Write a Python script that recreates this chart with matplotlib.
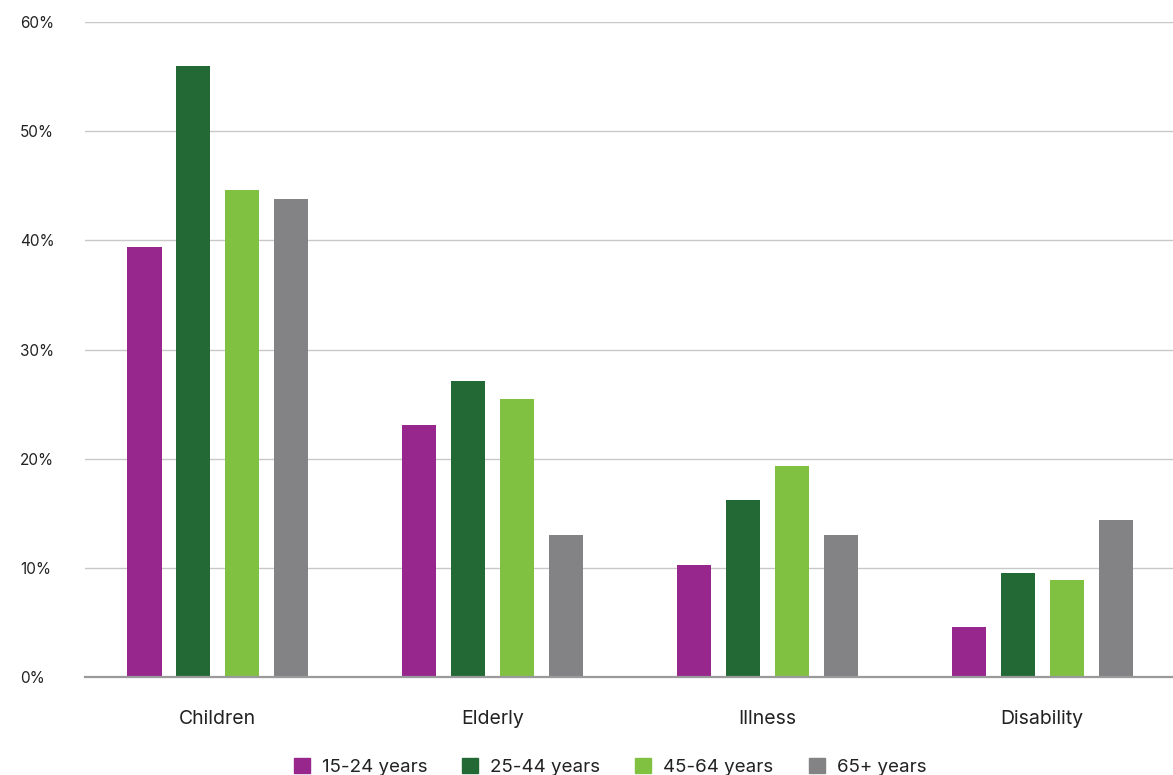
import numpy as np
import matplotlib.pyplot as plt
from matplotlib.patches import Patch

plt.rcParams['font.family'] = ['Inter', 'DejaVu Sans']

categories = ["Children", "Elderly", "Illness", "Disability"]
groups = ["15-24 years", "25-44 years", "45-64 years", "65+ years"]
colors = ["#97268D", "#236936", "#80C142", "#838386"]

age_15_24 = [39.4, 23.1, 10.3, 4.6]
age_25_44 = [56.0, 27.1, 16.2, 9.5]
age_45_64 = [44.6, 25.5, 19.3, 8.9]
age_65_up = [43.8, 13.0, 13.0, 14.4]
series = [age_15_24, age_25_44, age_45_64, age_65_up]

fig = plt.figure(figsize=(11.73, 7.75), dpi=100)
ax = fig.add_axes([85 / 1173, 98 / 775, 1 - 85 / 1173, (677 - 22) / 775])

x = np.arange(len(categories))
step = 0.178
width = 0.124
for i, (vals, c) in enumerate(zip(series, colors)):
    ax.bar(x + (i - 1.5) * step, vals, width, color=c, zorder=3)

ax.set_xlim(-0.4836, 3.476)
ax.set_ylim(0, 60)
ax.set_yticks(range(0, 61, 10))
ax.set_yticklabels([f"{v}%" for v in range(0, 61, 10)], ha='left', fontsize=11, color='#222222')
ax.tick_params(axis='y', length=0, pad=46.8)
ax.set_xticks(x)
ax.set_xticklabels(categories, fontsize=14, color='#222222')
ax.tick_params(axis='x', length=0, pad=23.5)

ax.yaxis.grid(True, color='#c8c8c8', linewidth=1, zorder=0)
for s in ['top', 'right', 'left']:
    ax.spines[s].set_visible(False)
ax.spines['bottom'].set_color('#9a9a9a')
ax.spines['bottom'].set_linewidth(1.6)
ax.spines['bottom'].set_zorder(4)

handles = [Patch(color=c, label=g) for c, g in zip(colors, groups)]
fig.legend(handles=handles, loc='center', bbox_to_anchor=(610 / 1173, 8 / 775),
           ncol=4, frameon=False, fontsize=13.5, handlelength=0.85, handleheight=0.85,
           handletextpad=0.64, columnspacing=1.87, labelcolor='#222222')

fig.savefig("out.png", dpi=100)
